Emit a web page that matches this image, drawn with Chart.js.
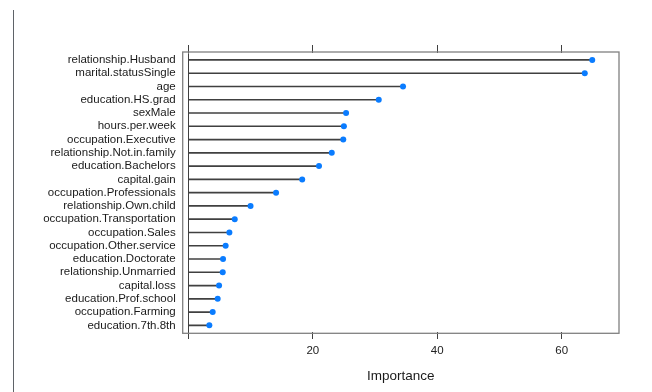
<!DOCTYPE html>
<html>
<head>
<meta charset="utf-8">
<script src="https://cdn.jsdelivr.net/npm/chart.js@4"></script>
<style>
  html, body { margin: 0; padding: 0; background: #fff; }
  #wrap { position: relative; width: 652px; height: 392px; }
  #edge { position: absolute; left: 13px; top: 10px; width: 1px; height: 382px; background: #5f6368; }
</style>
</head>
<body>
<div id="wrap">
  <div id="edge"></div>
  <canvas id="imp" width="652" height="392"></canvas>
</div>
<script>
const features = [
  'relationship.Husband', 'marital.statusSingle', 'age', 'education.HS.grad',
  'sexMale', 'hours.per.week', 'occupation.Executive', 'relationship.Not.in.family',
  'education.Bachelors', 'capital.gain', 'occupation.Professionals', 'relationship.Own.child',
  'occupation.Transportation', 'occupation.Sales', 'occupation.Other.service', 'education.Doctorate',
  'relationship.Unmarried', 'capital.loss', 'education.Prof.school', 'occupation.Farming',
  'education.7th.8th'
]
const importance = [
  64.9, 63.7, 34.5, 30.6,
  25.35, 25.0, 24.9, 23.05,
  21.0, 18.3, 14.1, 10.0,
  7.46, 6.6, 6.0, 5.58,
  5.53, 4.94, 4.72, 3.92,
  3.38
]
const xTicks = [0, 20, 40, 60]

const font = { family: 'Liberation Sans, Arial, sans-serif', size: 11.5 }
const setTicks = scale => { scale.ticks = xTicks.map(v => ({ value: v })) }

// lattice-style frame, a little outside the category band
const boxPlugin = {
  id: 'box',
  afterDraw (chart) {
    const { ctx, chartArea: a } = chart
    ctx.save()
    ctx.strokeStyle = '#808080'
    ctx.lineWidth = 1.3
    ctx.strokeRect(a.left, a.top - 1.3, a.right - a.left, a.bottom - a.top + 2.6)
    ctx.restore()
  }
}

new Chart(document.querySelector('#imp'), {
  type: 'bar',
  data: {
    labels: features,
    datasets: [
      {
        type: 'line',
        data: importance,
        showLine: false,
        pointRadius: 3,
        pointBackgroundColor: '#0a7cff',
        pointBorderWidth: 0,
        order: 0
      },
      {
        data: importance,
        backgroundColor: '#404040',
        barThickness: 1,
        order: 1
      }
    ]
  },
  options: {
    indexAxis: 'y',
    responsive: false,
    animation: false,
    layout: { padding: { left: 0, right: 33, top: 0, bottom: 0 } },
    plugins: { legend: { display: false }, tooltip: { enabled: false } },
    scales: {
      x: {
        position: 'bottom',
        min: -0.9,
        max: 69.2,
        afterBuildTicks: setTicks,
        afterFit: s => { s.height = 60 },
        border: { display: false },
        grid: {
          color: c => (c.tick && c.tick.value === 0 ? '#404040' : 'rgba(0,0,0,0)'),
          tickColor: '#404040',
          tickLength: 7,
          lineWidth: 1
        },
        ticks: {
          font,
          color: '#222',
          padding: 5,
          maxRotation: 0,
          callback: v => (v === 0 ? '' : v)
        },
        title: {
          display: true,
          text: 'Importance',
          font: { family: 'Liberation Sans, Arial, sans-serif', size: 13.5 },
          color: '#1a1a1a',
          padding: { top: 0, bottom: 8 }
        }
      },
      x2: {
        position: 'top',
        axis: 'x',
        min: -0.9,
        max: 69.2,
        afterBuildTicks: setTicks,
        afterFit: s => { s.height = 53.3 },
        border: { display: false },
        grid: { drawOnChartArea: false, tickColor: '#404040', tickLength: 8.3 },
        ticks: { font, callback: () => '' }
      },
      y: {
        offset: true,
        afterFit: s => { s.width = 182.7 },
        border: { display: false },
        grid: { display: false, drawTicks: false },
        ticks: { font, color: '#1a1a1a', padding: 7, autoSkip: false }
      }
    }
  },
  plugins: [boxPlugin]
})
</script>
</body>
</html>
